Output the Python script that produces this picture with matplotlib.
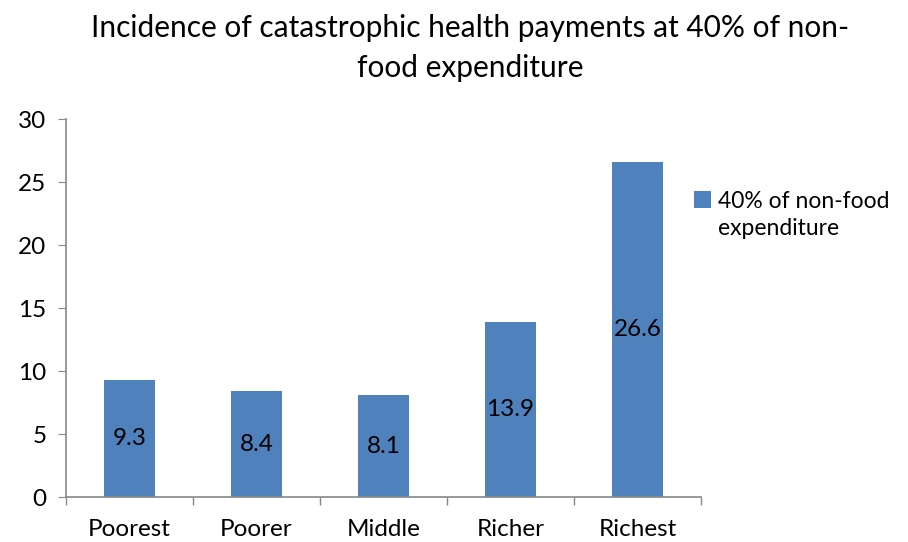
import matplotlib.pyplot as plt
import numpy as np

categories = ["Poorest", "Poorer", "Middle", "Richer", "Richest"]
values = [9.3, 8.4, 8.1, 13.9, 26.6]
series_name = "40% of non-food"
series_name_2 = "expenditure"

plt.rcParams['font.family'] = ['Lato', 'DejaVu Sans']

fig = plt.figure(figsize=(9.08, 5.42), dpi=100)
ax = fig.add_axes([0.0727, 0.083, 0.6993, 0.697])

x = np.arange(len(categories))
bars = ax.bar(x, values, width=0.4, color="#4F81BD", label=series_name)

for xi, v in zip(x, values):
    ax.text(xi, v / 2, "%.1f" % v, ha="center", va="center", fontsize=17.5, color="black")

ax.set_xlim(-0.5, len(categories) - 0.5)
ax.set_ylim(0, 30)
ax.set_yticks(range(0, 31, 5))
ax.set_xticks(x)
ax.set_xticklabels(categories, fontsize=17.5)
ax.tick_params(axis="x", length=0, pad=16)
ax.set_xticks(np.arange(-0.5, len(categories), 1), minor=True)
ax.tick_params(axis="x", which="minor", length=6, color="#888888", width=1)
ax.tick_params(axis="y", labelsize=17.5, length=6, color="#888888", pad=8)

for s in ["top", "right"]:
    ax.spines[s].set_visible(False)
for s in ["left", "bottom"]:
    ax.spines[s].set_color("#888888")
    ax.spines[s].set_linewidth(1.2)

fig.text(0.518, 0.948, "Incidence of catastrophic health payments at 40% of non-",
         ha="center", va="center", fontsize=21.5)
fig.text(0.518, 0.875, "food expenditure", ha="center", va="center", fontsize=21.5)

# legend: square sits level with the first line, second line wraps underneath
leg = ax.legend(loc="upper left", bbox_to_anchor=(0.975, 0.835), frameon=False,
                fontsize=16.5, handlelength=0.75, handleheight=0.75, handletextpad=0.3,
                borderaxespad=0)
fig.canvas.draw()
bb = leg.get_texts()[0].get_window_extent().transformed(fig.transFigure.inverted())
fig.text(bb.x0, bb.y0 - 0.012, series_name_2, ha="left", va="top", fontsize=16.5)

fig.savefig("out.png", dpi=100)
